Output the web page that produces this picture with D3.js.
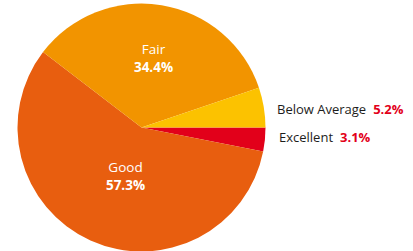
<!DOCTYPE html>
<html>
<head>
<meta charset="utf-8">
<script src="https://cdn.jsdelivr.net/npm/d3@7"></script>
<style>
  body { margin: 0; background: #fff; }
  text { font-family: "Open Sans", "Noto Sans", sans-serif; }
</style>
</head>
<body>
<svg id="chart" width="413" height="251"></svg>
<script>
// slice order: clockwise from 3 o'clock
const categories = ['Excellent', 'Good', 'Fair', 'Below Average'];
const shares = [3.1, 57.3, 34.4, 5.2];
const colors = ['#e2001a', '#e85e0f', '#f29400', '#fcc200'];
const inside = ['Good', 'Fair'];          // labelled on the slice
const legendCats = ['Below Average', 'Excellent'];

const data = categories.map((c, i) => ({ cat: c, value: shares[i], color: colors[i] }));

const width = 413, height = 251;
const cx = 141.5, cy = 127.5, radius = 124;

const svg = d3.select('#chart');
const g = svg.append('g').attr('transform', `translate(${cx},${cy})`);

const pie = d3.pie()
    .sort(null)
    .value(d => d.value)
    .startAngle(Math.PI / 2)
    .endAngle(Math.PI / 2 + 2 * Math.PI);

const arc = d3.arc().innerRadius(0).outerRadius(radius);

const arcs = pie(data);

g.selectAll('path')
    .data(arcs)
    .enter().append('path')
    .attr('d', arc)
    .attr('fill', d => d.data.color);

// labels inside the big slices
const labelPos = { 'Fair': [12, -73.5], 'Good': [-16, 44.5] };
const inner = g.selectAll('.inner')
    .data(arcs.filter(d => inside.includes(d.data.cat)))
    .enter().append('g')
    .attr('class', 'inner')
    .attr('transform', d => `translate(${labelPos[d.data.cat]})`);

inner.append('text')
    .attr('text-anchor', 'middle')
    .attr('fill', '#fff')
    .style('font-size', '13.5px')
    .text(d => d.data.cat);

inner.append('text')
    .attr('text-anchor', 'middle')
    .attr('y', 17.5)
    .attr('fill', '#fff')
    .style('font-size', '13.5px')
    .style('font-weight', 'bold')
    .text(d => d.data.value.toFixed(1) + '%');

// legend on the right for the small slices
const y = d3.scalePoint().domain(legendCats).range([114, 142]);
const leg = svg.selectAll('.leg')
    .data(data.filter(d => legendCats.includes(d.cat)))
    .enter().append('text')
    .attr('class', 'leg')
    .attr('x', d => d.cat === 'Excellent' ? 279 : 277)
    .attr('y', d => y(d.cat))
    .style('font-size', '13px');

leg.append('tspan')
    .attr('fill', '#1d1d1b')
    .text(d => d.cat);

leg.append('tspan')
    .attr('dx', 7)
    .attr('fill', '#e2001a')
    .style('font-weight', 'bold')
    .text(d => d.value.toFixed(1) + '%');
</script>
</body>
</html>
